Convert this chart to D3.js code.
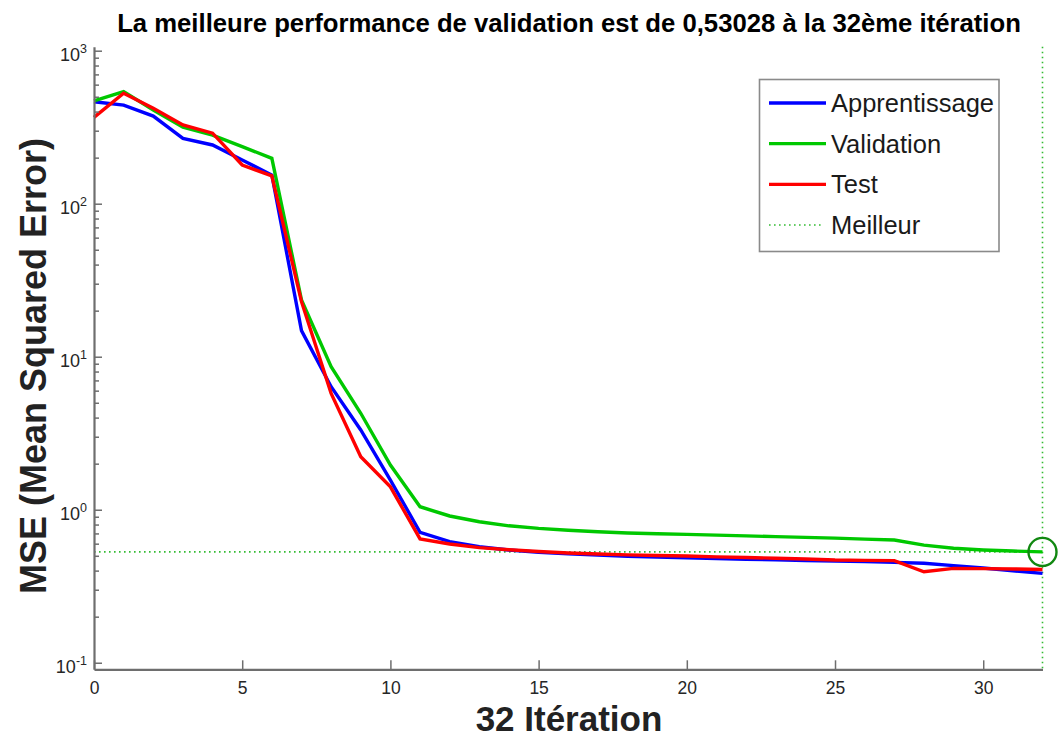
<!DOCTYPE html>
<html><head><meta charset="utf-8">
<script src="https://cdn.jsdelivr.net/npm/d3@7"></script>
<style>
body{margin:0;background:#fff}
svg{display:block}
text{font-family:"Liberation Sans",Arial,Helvetica,sans-serif}
</style>
</head><body>
<svg id="c" width="1059" height="738"></svg>
<script>
const iterations = [0,1,2,3,4,5,6,7,8,9,10,11,12,13,14,15,16,17,18,19,20,21,22,23,24,25,26,27,28,29,30,31,32];
const trainMSE = [464,441,374,267,242,193,154,14.8,6.37,3.32,1.56,0.712,0.618,0.573,0.545,0.527,0.515,0.505,0.497,0.491,0.485,0.480,0.475,0.470,0.466,0.462,0.458,0.453,0.447,0.431,0.416,0.399,0.384];
const validMSE = [470,540,410,316,281,236,198,23.5,8.6,4.27,1.96,1.046,0.91,0.835,0.785,0.755,0.735,0.718,0.705,0.697,0.69,0.682,0.675,0.667,0.66,0.652,0.643,0.634,0.587,0.56,0.546,0.537,0.53028];
const testMSE  = [367,527,420,327,289,179,152,22.9,5.76,2.22,1.41,0.645,0.597,0.565,0.548,0.533,0.522,0.514,0.507,0.502,0.498,0.492,0.487,0.482,0.476,0.469,0.467,0.465,0.393,0.414,0.412,0.410,0.407];
const bestEpoch = 32;
const bestPerf = 0.53028;
const xTickValues = [0,5,10,15,20,25,30];
const yDecadeExponents = [-1,0,1,2,3];
const yExponentLabels = ["-1","0","1","2","3"];
const legendNames = ["Apprentissage","Validation","Test","Meilleur"];
const titleText = "La meilleure performance de validation est de 0,53028 à la 32ème itération";
const xLabelText = "32 Itération";
const yLabelText = "MSE (Mean Squared Error)";

const svg = d3.select("#c");
const x = d3.scaleLinear().domain([0, 32]).range([94, 1042.5]);
const y = d3.scaleLog().domain([0.0906, 1062]).range([669.3, 46.7]);

const axisColor = "#6e6e6e";
const labelColor = "#262626";

// guide lines (best)
svg.append("line")
  .attr("x1", x(0)).attr("x2", x(bestEpoch))
  .attr("y1", y(bestPerf)).attr("y2", y(bestPerf))
  .attr("stroke", "#33bb33").attr("stroke-width", 1.6)
  .attr("stroke-dasharray", "1.6,3.4");
svg.append("line")
  .attr("x1", x(bestEpoch)).attr("x2", x(bestEpoch))
  .attr("y1", y.range()[1]).attr("y2", y.range()[0])
  .attr("stroke", "#33bb33").attr("stroke-width", 1.6)
  .attr("stroke-dasharray", "1.6,3.4");

// series
const series = [
  {name: legendNames[0], values: trainMSE, color: "#0000ff"},
  {name: legendNames[1], values: validMSE, color: "#00c800"},
  {name: legendNames[2], values: testMSE, color: "#ff0000"}
];
const line = d3.line().x((d, i) => x(iterations[i])).y(d => y(d));
series.forEach(s => {
  svg.append("path").attr("d", line(s.values))
    .attr("fill", "none").attr("stroke", s.color)
    .attr("stroke-width", 3.4).attr("stroke-linejoin", "miter");
});

// best circle
svg.append("circle")
  .attr("cx", x(bestEpoch)).attr("cy", y(bestPerf)).attr("r", 14)
  .attr("fill", "none").attr("stroke", "#118811").attr("stroke-width", 2.4);

// x axis
const gx = svg.append("g").attr("transform", `translate(0,${y.range()[0]})`)
  .call(d3.axisBottom(x).tickValues(xTickValues).tickSizeInner(-9).tickSizeOuter(0).tickFormat(d3.format("d")));
gx.select(".domain").attr("stroke", axisColor).attr("stroke-width", 2.2);
gx.selectAll(".tick line").attr("stroke", axisColor).attr("stroke-width", 1.5);
gx.selectAll(".tick text").attr("y", 25).attr("dy", 0)
  .attr("fill", labelColor).attr("font-size", 17.5).attr("font-family", '"Liberation Sans",Arial,sans-serif');

// y axis minor
const minorVals = [];
yDecadeExponents.forEach(e => { for (let m = 2; m <= 9; m++) { const v = m * Math.pow(10, e); if (v <= y.domain()[1]) minorVals.push(v); } });
const gyMinor = svg.append("g").attr("transform", `translate(${x(0)},0)`)
  .call(d3.axisLeft(y).tickValues(minorVals).tickSizeInner(-5).tickSizeOuter(0).tickFormat(""));
gyMinor.select(".domain").remove();
gyMinor.selectAll(".tick line").attr("stroke", axisColor).attr("stroke-width", 1.5);

// y axis major
const majorVals = yDecadeExponents.map(e => Math.pow(10, e));
const gy = svg.append("g").attr("transform", `translate(${x(0)},0)`)
  .call(d3.axisLeft(y).tickValues(majorVals).tickSizeInner(-8).tickSizeOuter(0).tickFormat(""));
gy.select(".domain").attr("stroke", axisColor).attr("stroke-width", 2.2);
gy.selectAll(".tick line").attr("stroke", axisColor).attr("stroke-width", 1.5);
gy.selectAll(".tick").each(function(d, i) {
  const t = d3.select(this).append("text")
    .attr("x", -7).attr("y", 10).attr("text-anchor", "end")
    .attr("fill", labelColor).attr("font-size", 18);
  t.append("tspan").text("10");
  t.append("tspan").attr("dy", -8).attr("font-size", 12.5).text(yExponentLabels[i]);
});

// title
svg.append("text").attr("x", 569).attr("y", 31.5).attr("text-anchor", "middle")
  .attr("font-size", 25.7).attr("font-weight", "bold").attr("fill", "#000").text(titleText);

// x label
svg.append("text").attr("x", 569).attr("y", 731).attr("text-anchor", "middle")
  .attr("font-size", 35).attr("font-weight", "bold").attr("fill", "#222").text(xLabelText);

// y label
svg.append("text").attr("transform", "translate(46,366) rotate(-90)").attr("text-anchor", "middle")
  .attr("font-size", 36).attr("font-weight", "bold").attr("fill", "#222").text(yLabelText);

// legend
const lg = svg.append("g");
lg.append("rect").attr("x", 759.5).attr("y", 79.5).attr("width", 239.5).attr("height", 172)
  .attr("fill", "#fff").attr("stroke", "#8a8a8a").attr("stroke-width", 1.6);
const legendItems = [
  {name: legendNames[0], color: "#0000ff", dash: null},
  {name: legendNames[1], color: "#00c800", dash: null},
  {name: legendNames[2], color: "#ff0000", dash: null},
  {name: legendNames[3], color: "#33bb33", dash: "1.6,3.4"}
];
const rowY = d3.scalePoint().domain(legendNames).range([103, 225]);
legendItems.forEach(it => {
  const ry = rowY(it.name);
  lg.append("line").attr("x1", 769).attr("x2", it.dash ? 822 : 826).attr("y1", ry).attr("y2", ry)
    .attr("stroke", it.color).attr("stroke-width", it.dash ? 1.6 : 3.4)
    .attr("stroke-dasharray", it.dash);
  lg.append("text").attr("x", 831).attr("y", ry + 9).attr("font-size", 25.5)
    .attr("fill", "#1a1a1a").text(it.name);
});
</script>
</body></html>
